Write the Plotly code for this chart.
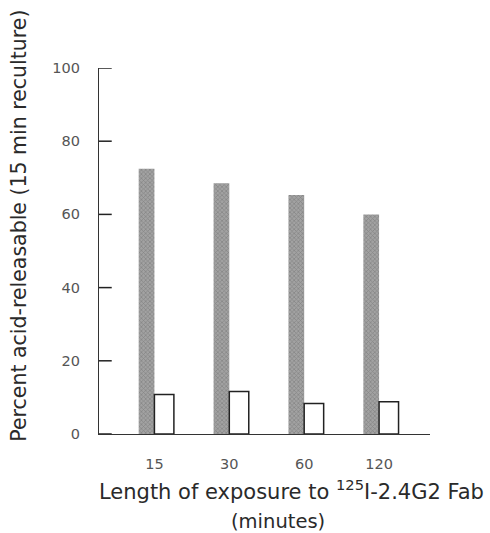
import plotly.graph_objects as go

categories = ["15", "30", "60", "120"]
acid_releasable = [72.5, 68.5, 65.3, 60.0]
control = [10.8, 11.6, 8.3, 8.8]
y_ticks = [0, 20, 40, 60, 80, 100]

xpos = list(range(len(categories)))
FONT = "DejaVu Sans"

fig = go.Figure()
fig.add_trace(go.Bar(
    x=xpos, y=acid_releasable, width=0.21, offset=-0.21,
    marker=dict(color="#959595", line=dict(width=0),
                pattern=dict(shape="x", fgcolor="#646464", bgcolor="#a2a2a2", size=3, solidity=0.4)),
    showlegend=False,
))
fig.add_trace(go.Bar(
    x=xpos, y=control, width=0.26, offset=0,
    marker=dict(color="white", line=dict(color="#222", width=1.5)),
    showlegend=False,
))

# inside tick marks on the y axis, drawn as a line trace through the y scale
tick_x, tick_y = [], []
for v in y_ticks:
    tick_x += [-0.74, -0.57, None]
    tick_y += [v, v, None]
fig.add_trace(go.Scatter(x=tick_x, y=tick_y, mode="lines",
                         line=dict(color="#222", width=1.5),
                         showlegend=False, hoverinfo="skip", cliponaxis=False))

fig.update_layout(
    width=490, height=533,
    margin=dict(l=99, r=60, t=68, b=99),
    plot_bgcolor="white", paper_bgcolor="white",
    barmode="overlay",
    font=dict(family=FONT, color="#333"),
    xaxis=dict(
        range=[-0.74, 3.68], showline=True, linecolor="#333", linewidth=1.3,
        tickvals=xpos, ticktext=categories, ticks="outside", ticklen=16,
        tickcolor="rgba(0,0,0,0)", showgrid=False, zeroline=False,
        tickfont=dict(size=14.5, color="#555", family=FONT),
    ),
    yaxis=dict(
        range=[0, 100], showline=True, linecolor="#333", linewidth=1.3,
        tickvals=y_ticks, ticks="", showgrid=False, zeroline=False,
        ticklabelstandoff=15,
        tickfont=dict(size=14.5, color="#555", family=FONT),
    ),
    annotations=[
        dict(text="Percent acid-releasable (15 min reculture)", textangle=-90,
             xref="paper", yref="paper", x=-0.242, y=0.569,
             xanchor="center", yanchor="middle", showarrow=False,
             font=dict(size=20.5, color="#2a2a2a", family=FONT)),
        dict(text="Length of exposure to <sup>125</sup>I-2.4G2 Fab",
             xref="paper", yref="paper", x=0.582, y=-0.152,
             xanchor="center", yanchor="middle", showarrow=False,
             font=dict(size=21, color="#2a2a2a", family=FONT)),
        dict(text="(minutes)",
             xref="paper", yref="paper", x=0.542, y=-0.24,
             xanchor="center", yanchor="middle", showarrow=False,
             font=dict(size=19.5, color="#2a2a2a", family=FONT)),
    ],
)

fig.write_html("out.html")
